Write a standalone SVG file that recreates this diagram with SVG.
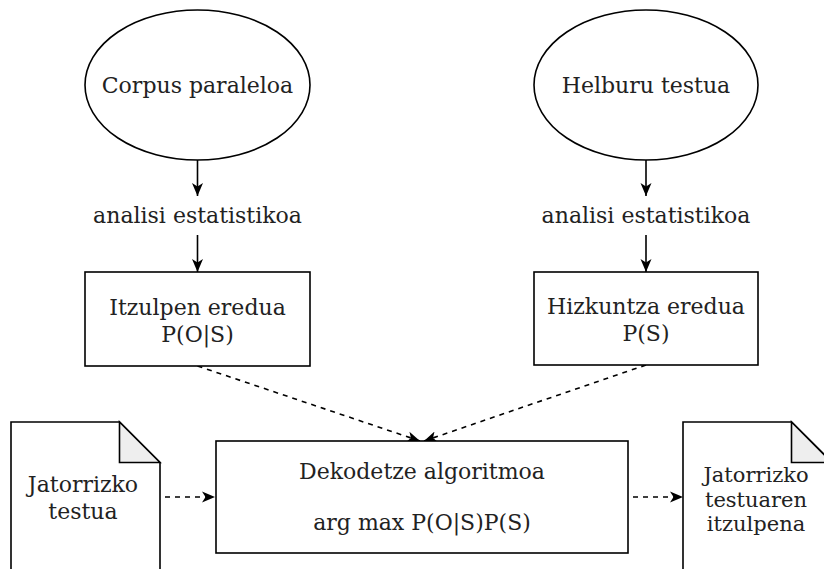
<svg xmlns="http://www.w3.org/2000/svg" width="824" height="569" viewBox="0 0 824 569">
  <style>
    .shape { fill: #ffffff; stroke: #000000; stroke-width: 1.6; }
    .fold { fill: #eeeeee; stroke: #000000; stroke-width: 1.6; }
    .label { font-family: "DejaVu Serif", "Liberation Serif", serif; font-size: 22px; fill: #222222; text-anchor: middle; }
    .tight { font-size: 21px; }
    .edge { fill: none; stroke: #000000; stroke-width: 1.6; }
    .dashed { stroke-dasharray: 5 5; }
  </style>
  <defs>
    <marker id="arrow" markerUnits="userSpaceOnUse" viewBox="0 0 13 12" markerWidth="13" markerHeight="12" refX="13" refY="6" orient="auto">
      <path d="M0,0.5 L13,6 L0,11.5 L3.5,6 Z" fill="#000000"/>
    </marker>
  </defs>

  <rect width="824" height="569" fill="#ffffff"/>

  <!-- connectors -->
  <g id="connectors">
    <line class="edge" x1="197.5" y1="160" x2="197.5" y2="196" marker-end="url(#arrow)"/>
    <line class="edge" x1="197.5" y1="235" x2="197.5" y2="272" marker-end="url(#arrow)"/>
    <line class="edge" x1="646" y1="160" x2="646" y2="196" marker-end="url(#arrow)"/>
    <line class="edge" x1="646" y1="235" x2="646" y2="272" marker-end="url(#arrow)"/>
    <line class="edge dashed" x1="197.5" y1="366" x2="420" y2="441" marker-end="url(#arrow)"/>
    <line class="edge dashed" x1="646" y1="365" x2="424" y2="441" marker-end="url(#arrow)"/>
    <line class="edge dashed" x1="165" y1="497" x2="215" y2="497" marker-end="url(#arrow)"/>
    <line class="edge dashed" x1="633" y1="497" x2="683" y2="497" marker-end="url(#arrow)"/>
  </g>

  <!-- parallel corpus -->
  <g id="corpus">
    <ellipse class="shape" cx="197.5" cy="85" rx="112.5" ry="75"/>
    <text class="label" x="197.5" y="93">Corpus paraleloa</text>
  </g>

  <!-- target text -->
  <g id="target">
    <ellipse class="shape" cx="646" cy="85" rx="112" ry="75"/>
    <text class="label" x="646" y="93">Helburu testua</text>
  </g>

  <!-- statistical analysis labels -->
  <g id="analysis-left">
    <text class="label" x="197.5" y="223">analisi estatistikoa</text>
  </g>
  <g id="analysis-right">
    <text class="label" x="646" y="223">analisi estatistikoa</text>
  </g>

  <!-- translation model -->
  <g id="translation-model">
    <rect class="shape" x="85" y="272" width="225" height="94"/>
    <text class="label" x="197.5" y="315">Itzulpen eredua</text>
    <text class="label" x="197.5" y="341.5">P(O|S)</text>
  </g>

  <!-- language model -->
  <g id="language-model">
    <rect class="shape" x="534" y="272" width="224" height="93"/>
    <text class="label" x="646" y="314">Hizkuntza eredua</text>
    <text class="label" x="646" y="340.5">P(S)</text>
  </g>

  <!-- decoder -->
  <g id="decoder">
    <rect class="shape" x="216" y="441" width="412" height="112"/>
    <text class="label" x="422" y="479">Dekodetze algoritmoa</text>
    <text class="label" x="422" y="530">arg max P(O|S)P(S)</text>
  </g>

  <!-- source document -->
  <g id="source-doc">
    <path class="shape" d="M11,575 L11,422 L119.5,422 L160,462.5 L160,575"/>
    <path class="fold" d="M119.5,422 L119.5,462.5 L160,462.5 Z"/>
    <text class="label" x="83" y="492">Jatorrizko</text>
    <text class="label" x="83" y="518.5">testua</text>
  </g>

  <!-- translated document: three tightly spaced lines -->
  <g id="output-doc">
    <path class="shape" d="M683,575 L683,422 L791.5,422 L832,462.5 L832,575"/>
    <path class="fold" d="M791.5,422 L791.5,462.5 L832,462.5 Z"/>
    <text class="label tight" x="756" y="482">Jatorrizko</text>
    <text class="label tight" x="756" y="506.5">testuaren</text>
    <text class="label tight" x="756" y="531">itzulpena</text>
  </g>
</svg>
